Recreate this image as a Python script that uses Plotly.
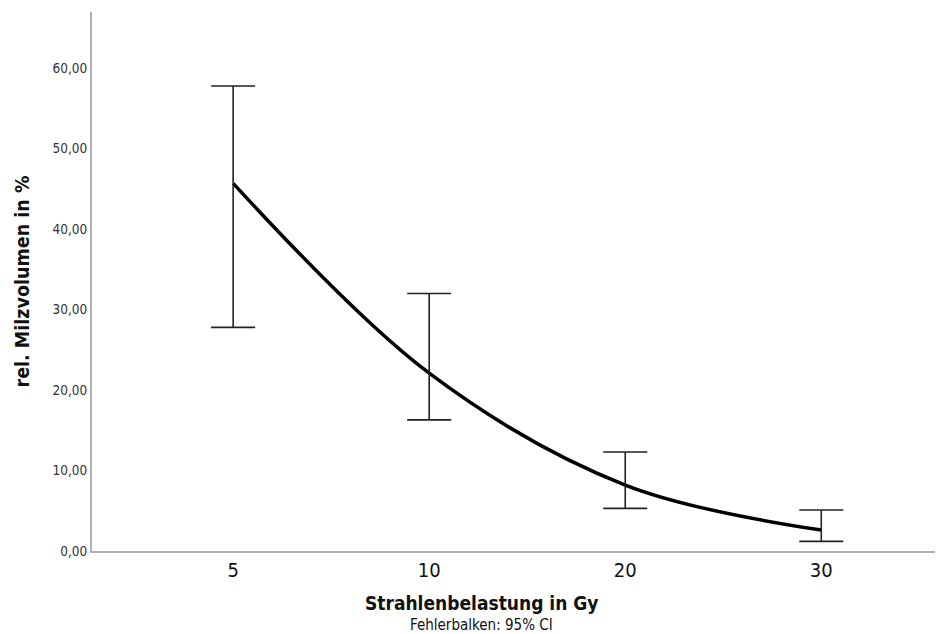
import plotly.graph_objects as go

doses = ["5", "10", "20", "30"]
means = [45.7, 22.1, 8.2, 2.6]
ci_upper = [57.8, 32.0, 12.3, 5.1]
ci_lower = [27.8, 16.3, 5.3, 1.2]
y_ticks = [0, 10, 20, 30, 40, 50, 60]
y_tick_labels = ["0,00", "10,00", "20,00", "30,00", "40,00", "50,00", "60,00"]

FONT = "DejaVu Sans Condensed, Liberation Sans Narrow, DejaVu Sans"

fig = go.Figure()
fig.add_trace(go.Scatter(
    x=doses, y=means, mode="lines",
    line=dict(color="black", width=3.5, shape="spline", smoothing=1.0),
    hoverinfo="skip", showlegend=False,
))
fig.add_trace(go.Scatter(
    x=doses, y=means, mode="markers",
    marker=dict(size=1, color="rgba(0,0,0,0)"),
    error_y=dict(
        type="data", symmetric=False,
        array=[u - m for u, m in zip(ci_upper, means)],
        arrayminus=[m - l for m, l in zip(means, ci_lower)],
        color="#222222", thickness=1.6, width=22,
    ),
    showlegend=False,
))

fig.update_layout(
    width=947, height=634,
    margin=dict(l=92, r=12, t=12, b=83),
    paper_bgcolor="white", plot_bgcolor="white",
    font=dict(family=FONT, color="#222222"),
    xaxis=dict(
        type="category", range=[-0.72, 3.58],
        showline=True, linecolor="#b0b0b0", linewidth=2,
        showgrid=False, zeroline=False, ticks="",
        tickfont=dict(size=20, color="#111111"),
    ),
    yaxis=dict(
        range=[0, 67], showline=True, linecolor="#b0b0b0", linewidth=2,
        showgrid=False, zeroline=False, ticks="",
        tickvals=y_ticks, ticktext=y_tick_labels,
        tickfont=dict(size=13.5, color="#333333"),
    ),
    annotations=[
        dict(text="<b>Strahlenbelastung in Gy</b>", xref="paper", yref="paper",
             x=0.4626, y=0, yshift=-52, xanchor="center", yanchor="middle",
             showarrow=False, font=dict(size=19, color="#111111")),
        dict(text="Fehlerbalken: 95% CI", xref="paper", yref="paper",
             x=0.4626, y=0, yshift=-74, xanchor="center", yanchor="middle",
             showarrow=False, font=dict(size=15, color="#111111")),
        dict(text="<b>rel. Milzvolumen in %</b>", xref="paper", yref="paper",
             x=0, xshift=-70, y=0.5, xanchor="center", yanchor="middle",
             textangle=-90, showarrow=False, font=dict(size=19.5, color="#111111")),
    ],
)
fig.write_html("out.html")
